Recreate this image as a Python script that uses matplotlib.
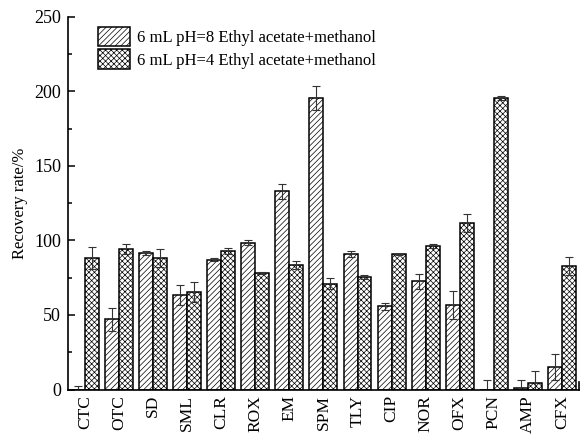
import matplotlib
matplotlib.use("Agg")
import matplotlib.pyplot as plt
import numpy as np

categories = ["CTC", "OTC", "SD", "SML", "CLR", "ROX", "EM", "SPM", "TLY", "CIP",
              "NOR", "OFX", "PCN", "AMP", "CFX"]
ph8_values = [0, 47, 91.7, 63.7, 87.2, 98.6, 133.1, 195.7, 91, 55.7, 72.5, 56.4, 0, 1.3, 15]
ph8_errors = [2.3, 8, 1.5, 6.7, 0.8, 2, 5, 8, 2.2, 2.4, 5.3, 9.4, 6.7, 5, 8.5]
ph4_values = [88.3, 94.1, 88.3, 65.5, 92.8, 78.2, 83.4, 71.1, 75.4, 90.6, 96.4, 111.4, 195.3, 4.7, 83]
ph4_errors = [7.5, 3.5, 6, 6.7, 2, 0.5, 2.5, 3.4, 1.3, 0.3, 1.3, 6, 1.3, 8, 6]
series_labels = ["6 mL pH=8 Ethyl acetate+methanol", "6 mL pH=4 Ethyl acetate+methanol"]

plt.rcParams['font.family'] = ['Liberation Serif', 'DejaVu Serif']
plt.rcParams['font.size'] = 12
plt.rcParams['hatch.linewidth'] = 0.5

fig = plt.figure(figsize=(5.83, 4.38), dpi=100)
ax = fig.add_axes([0.1166, 0.1107, 0.8764, 0.851])

x = np.arange(len(categories))
w = 0.41
ekw = dict(ecolor='#333333', elinewidth=0.8, capsize=3, capthick=0.8)
ax.bar(x - w / 2, ph8_values, w, yerr=ph8_errors, color='white', edgecolor='black',
       linewidth=1.1, hatch='//////', label=series_labels[0], error_kw=ekw)
ax.bar(x + w / 2, ph4_values, w, yerr=ph4_errors, color='white', edgecolor='black',
       linewidth=1.1, hatch='xxxxxx', label=series_labels[1], error_kw=ekw)

ax.set_xlim(-0.5, len(categories) - 0.5)
ax.set_ylim(0, 250)
ax.set_yticks([0, 50, 100, 150, 200, 250])
ax.set_yticks(np.arange(25, 250, 50), minor=True)
ax.set_xticks(x)
ax.set_xticklabels(categories, rotation=90, fontsize=12.5)
ax.tick_params(axis='x', length=0, pad=4)
ax.tick_params(axis='y', which='major', direction='in', length=5, width=1.1, pad=5,
               labelsize=13)
ax.tick_params(axis='y', which='minor', direction='in', length=3, width=1.1)
ax.set_ylabel("Recovery rate/%", labelpad=4)

ax.spines['top'].set_visible(False)
ax.spines['right'].set_bounds(0, 5)
for s in ['left', 'bottom', 'right']:
    ax.spines[s].set_linewidth(1.2)

ax.legend(loc='upper left', bbox_to_anchor=(0.04, 1.0), frameon=False,
          handlelength=1.9, handleheight=1.4, handletextpad=0.4, labelspacing=0.2,
          borderaxespad=0.2, fontsize=12)

fig.savefig("out.png", dpi=100)
